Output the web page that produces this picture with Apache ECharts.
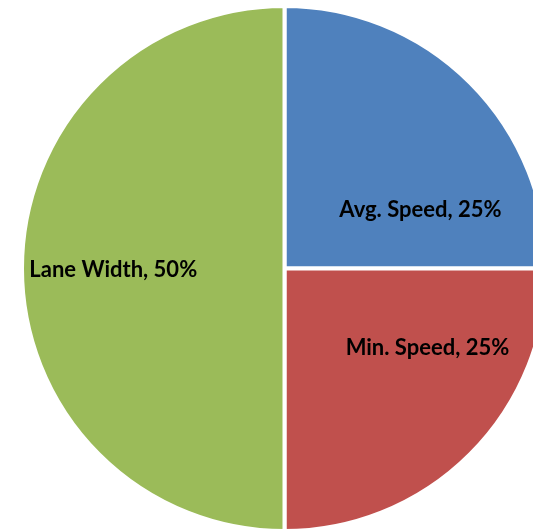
<!DOCTYPE html>
<html>
<head>
<meta charset="utf-8">
<script src="https://cdn.jsdelivr.net/npm/echarts@6/dist/echarts.min.js"></script>
<style>html,body{margin:0;padding:0;background:#fff}#c{width:533px;height:530px}</style>
</head>
<body>
<div id="c"></div>
<script>
var categories = ['Avg. Speed', 'Min. Speed', 'Lane Width'];
var values = [25, 25, 50];
var colors = ['#4F81BD', '#C0504D', '#9BBB59'];
var labelOffsets = [[41, 36], [48, -16], [-37, 1]];

var chart = echarts.init(document.getElementById('c'), null, {renderer: 'canvas'});
var total = values.reduce(function(a, b){ return a + b; }, 0);
chart.setOption({
  animation: false,
  series: [{
    type: 'pie',
    center: [284.5, 268.5],
    radius: [0, 262.5],
    startAngle: 90,
    clockwise: true,
    silent: true,
    itemStyle: { borderColor: '#ffffff', borderWidth: 4 },
    label: {
      show: true,
      position: 'inside',
      fontFamily: 'Lato',
      fontWeight: 'bold',
      fontSize: 22,
      color: '#000000',
      formatter: function(p){ return p.name + ', ' + Math.round(p.value / total * 100) + '%'; }
    },
    labelLine: { show: false },
    data: categories.map(function(name, i){
      return {
        name: name,
        value: values[i],
        itemStyle: { color: colors[i] },
        label: { offset: labelOffsets[i] }
      };
    })
  }]
});
</script>
</body>
</html>
